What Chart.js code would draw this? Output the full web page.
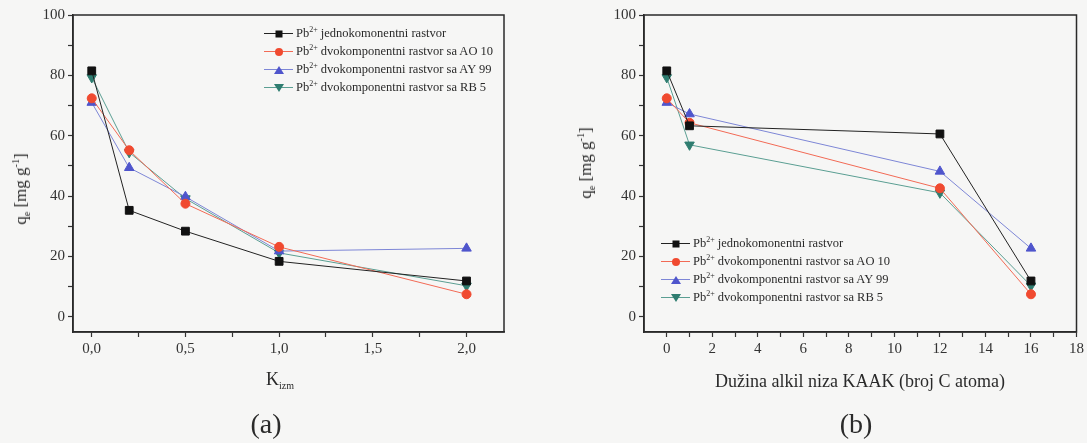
<!DOCTYPE html>
<html>
<head>
<meta charset="utf-8">
<script src="https://cdn.jsdelivr.net/npm/chart.js@4"></script>
<style>
  body { margin: 0; background: #f6f6f5; font-family: "Liberation Serif", serif; color: #2a2a2a; }
  #wrap { position: relative; width: 1087px; height: 443px; overflow: hidden; }
  canvas { position: absolute; top: 0; }
  .lbl { position: absolute; white-space: nowrap; }
  .ytitle { font-size: 17px; transform: translate(-50%, -50%) rotate(-90deg); }
  .xtitle { font-size: 18px; transform: translate(-50%, -50%); }
  .panel { font-size: 28px; transform: translate(-50%, -50%); }
  sub, sup { font-size: 10px; line-height: 0; }
  .legend { position: absolute; font-size: 12.5px; }
  .legend div { display: flex; align-items: center; height: 18px; }
  .legend sup { font-size: 8px; }
  .sym { position: relative; width: 29px; height: 18px; margin-right: 3px; }
  .sym .ln { position: absolute; left: 0; right: 0; top: 9px; height: 1px; }
  .sym .mk { position: absolute; left: 50%; top: 9.5px; transform: translate(-50%, -50%); }
</style>
</head>
<body>
<div id="wrap">
  <canvas id="chartA" width="540" height="443" style="left:0"></canvas>
  <canvas id="chartB" width="547" height="443" style="left:540px"></canvas>

  <div class="lbl ytitle" style="left:21px; top:189px">q<sub>e</sub> [mg g<sup>-1</sup>]</div>
  <div class="lbl ytitle" style="left:586px; top:163px">q<sub>e</sub> [mg g<sup>-1</sup>]</div>
  <div class="lbl xtitle" style="left:280px; top:379px">K<sub>izm</sub></div>
  <div class="lbl xtitle" style="left:860px; top:381px">Dužina alkil niza KAAK (broj C atoma)</div>
  <div class="lbl panel" style="left:266px; top:424px">(a)</div>
  <div class="lbl panel" style="left:856px; top:424px">(b)</div>

  <div class="legend" id="legendA" style="left:264px; top:24px"></div>
  <div class="legend" id="legendB" style="left:661px; top:234px"></div>
</div>

<script>
// x values
const kizm = [0, 0.2, 0.5, 1.0, 2.0];
const alkilLength = [0, 1, 12, 16];

// panel (a): q_e vs K_izm
const pbSingleA = [81.5, 35.3, 28.4, 18.4, 11.9];
const pbAO10A = [72.4, 55.2, 37.5, 23.2, 7.5];
const pbAY99A = [71.0, 49.4, 39.8, 21.8, 22.7];
const pbRB5A = [79.3, 54.5, 39.2, 21.2, 10.3];

// panel (b): q_e vs alkyl chain length
const pbSingleB = [81.5, 63.3, 60.6, 11.9];
const pbAO10B = [72.4, 64.3, 42.6, 7.5];
const pbAY99B = [71.0, 67.2, 48.2, 22.7];
const pbRB5B = [79.3, 57.0, 41.1, 10.3];

// ticks
const yTicks = [0, 10, 20, 30, 40, 50, 60, 70, 80, 90, 100];
const xTicksA = [0, 0.25, 0.5, 0.75, 1.0, 1.25, 1.5, 1.75, 2.0];
const xTicksB = [0, 1, 2, 3, 4, 5, 6, 7, 8, 9, 10, 11, 12, 13, 14, 15, 16, 17, 18];

const seriesNames = [
    "jednokomonentni rastvor",
    "dvokomponentni rastvor sa AO 10",
    "dvokomponentni rastvor sa AY 99",
    "dvokomponentni rastvor sa RB 5"
];

const seriesStyle = [
    { line: "#222222", point: "#111111", shape: "rect", radius: 5.5, rot: 0 },
    { line: "#f26a55", point: "#f04a30", shape: "circle", radius: 4.5, rot: 0 },
    { line: "#7d86d6", point: "#4f55cc", shape: "triangle", radius: 5.5, rot: 0 },
    { line: "#5a9e92", point: "#2f7d70", shape: "triangle", radius: 5.5, rot: 180 }
];

function makeDatasets(xs, seriesList) {
    return seriesList.map((ys, i) => ({
        label: "Pb2+ " + seriesNames[i],
        data: xs.map((x, j) => ({ x: x, y: ys[j] })),
        borderColor: seriesStyle[i].line,
        borderWidth: 1,
        pointStyle: seriesStyle[i].shape,
        pointRotation: seriesStyle[i].rot,
        pointRadius: seriesStyle[i].radius,
        pointBackgroundColor: seriesStyle[i].point,
        pointBorderColor: seriesStyle[i].point,
        pointBorderWidth: 1,
        tension: 0
    }));
}

// frame around the plot area
const framePlugin = {
    id: "frame",
    afterDraw(chart) {
        const a = chart.chartArea;
        const ctx = chart.ctx;
        ctx.save();
        ctx.strokeStyle = "#2a2a2a";
        ctx.lineWidth = 1.5;
        ctx.strokeRect(a.left, a.top, a.right - a.left, a.bottom - a.top);
        ctx.restore();
    }
};

const tickFont = { family: "Liberation Serif", size: 15 };

function makeOptions(xMin, xMax, xTicks, xLabel, padRight, yWidth) {
    return {
        responsive: false,
        animation: false,
        devicePixelRatio: 1,
        layout: { padding: { top: 15, right: padRight, left: 0, bottom: 0 } },
        plugins: { legend: { display: false }, tooltip: { enabled: false } },
        scales: {
            x: {
                type: "linear",
                min: xMin,
                max: xMax,
                afterBuildTicks: s => { s.ticks = xTicks.map(v => ({ value: v })); },
                afterFit: s => { s.height = 111; },
                ticks: { autoSkip: false, maxRotation: 0, padding: 3, color: "#333", font: tickFont, callback: xLabel },
                grid: { drawOnChartArea: false, tickLength: 5, tickColor: "#333", tickWidth: 1.2 },
                border: { color: "#2a2a2a", width: 1.5 }
            },
            y: {
                min: -5,
                max: 100,
                afterBuildTicks: s => { s.ticks = yTicks.map(v => ({ value: v })); },
                afterFit: s => { s.width = yWidth; },
                ticks: { autoSkip: false, padding: 3, color: "#333", font: tickFont,
                    callback: v => (v % 20 === 0 ? String(v) : "") },
                grid: { drawOnChartArea: false, tickLength: 5, tickColor: "#333", tickWidth: 1.2 },
                border: { color: "#2a2a2a", width: 1.5 }
            }
        }
    };
}

new Chart(document.getElementById("chartA"), {
    type: "line",
    data: { datasets: makeDatasets(kizm, [pbSingleA, pbAO10A, pbAY99A, pbRB5A]) },
    options: makeOptions(-0.1, 2.2, xTicksA,
        v => (Math.abs(v * 2 - Math.round(v * 2)) < 1e-9 ? v.toFixed(1).replace(".", ",") : ""), 36, 73),
    plugins: [framePlugin]
});

new Chart(document.getElementById("chartB"), {
    type: "line",
    data: { datasets: makeDatasets(alkilLength, [pbSingleB, pbAO10B, pbAY99B, pbRB5B]) },
    options: makeOptions(-1, 18, xTicksB, v => (v % 2 === 0 ? String(v) : ""), 9, 104),
    plugins: [framePlugin]
});

// html legends (same look in both panels)
function markerHtml(i) {
    const c = seriesStyle[i].point;
    if (i === 0) return `<span class="mk" style="width:7px;height:7px;background:${c}"></span>`;
    if (i === 1) return `<span class="mk" style="width:8px;height:8px;border-radius:50%;background:${c}"></span>`;
    if (i === 2) return `<span class="mk" style="width:0;height:0;border-left:5px solid transparent;border-right:5px solid transparent;border-bottom:8px solid ${c}"></span>`;
    return `<span class="mk" style="width:0;height:0;border-left:5px solid transparent;border-right:5px solid transparent;border-top:8px solid ${c}"></span>`;
}

["legendA", "legendB"].forEach(id => {
    document.getElementById(id).innerHTML = seriesNames.map((name, i) =>
        `<div><span class="sym"><span class="ln" style="background:${seriesStyle[i].line}"></span>${markerHtml(i)}</span>` +
        `<span>Pb<sup>2+</sup> ${name}</span></div>`).join("");
});
</script>
</body>
</html>
